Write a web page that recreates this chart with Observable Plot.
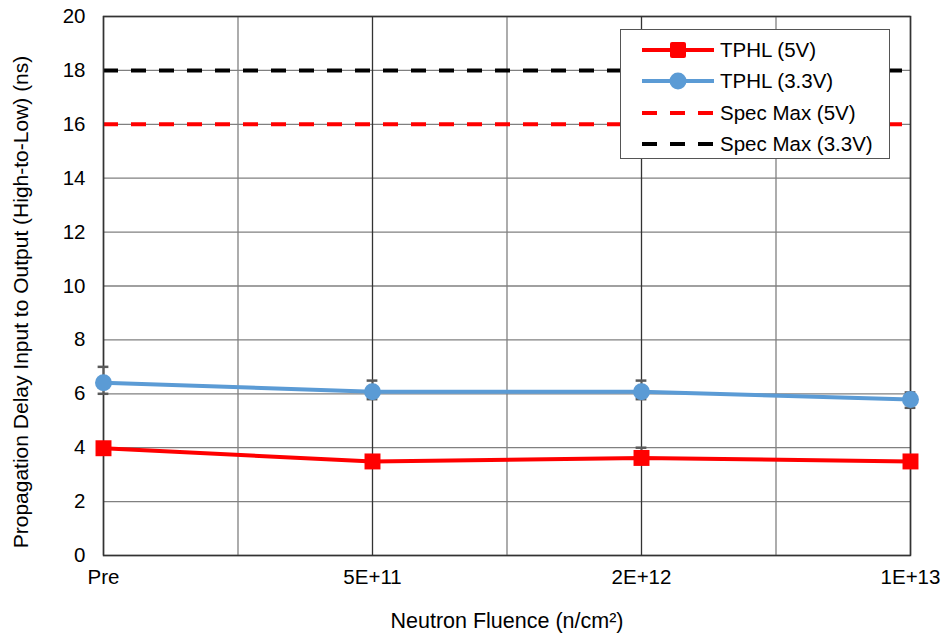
<!DOCTYPE html>
<html>
<head>
<meta charset="utf-8">
<script src="https://cdn.jsdelivr.net/npm/d3@7"></script>
<script src="https://cdn.jsdelivr.net/npm/@observablehq/plot@0.6"></script>
<style>
  html, body { margin: 0; padding: 0; background: #fff; }
  #wrap { position: relative; width: 946px; height: 637px; font-family: "Liberation Sans", Arial, sans-serif; }
  #legend { position: absolute; left: 620px; top: 29px; width: 270px; height: 130px;
    border: 1.5px solid #555; background: #fff; box-sizing: border-box; padding-top: 4px; }
  .item { display: flex; align-items: center; height: 31.5px; font-size: 20.5px; color: #000; }
  .item svg { margin-left: 21px; margin-right: 6px; }
</style>
</head>
<body>
<div id="wrap"></div>
<script>
// ---- data ----
const categories = ["Pre", "5E+11", "2E+12", "1E+13"];
const tphl5 = [3.98, 3.49, 3.62, 3.49];
const tphl5Low = [3.8, 3.3, 3.4, 3.3];
const tphl5High = [4.15, 3.7, 4.0, 3.7];
const tphl33 = [6.41, 6.08, 6.08, 5.79];
const tphl33Low = [6.0, 5.8, 5.8, 5.48];
const tphl33High = [7.0, 6.49, 6.49, 6.05];
const specMax5 = 16;
const specMax33 = 18;
const yTicks = [0, 2, 4, 6, 8, 10, 12, 14, 16, 18, 20];
const yTitle = "Propagation Delay Input to Output (High-to-Low) (ns)";
const xTitle = "Neutron Fluence (n/cm²)";

const red = "#FF0000", blue = "#5B9BD5", errColor = "#595959";

const s5 = categories.map((c, i) => ({x: i, y: tphl5[i], lo: tphl5Low[i], hi: tphl5High[i]}));
const s33 = categories.map((c, i) => ({x: i, y: tphl33[i], lo: tphl33Low[i], hi: tphl33High[i]}));
const midGrid = categories.slice(1).map((c, i) => i + 0.5);
const catGrid = categories.map((c, i) => i);
const capW = 0.02;

const chart = Plot.plot({
  width: 946,
  height: 637,
  marginLeft: 103,
  marginRight: 36,
  marginTop: 16,
  marginBottom: 82,
  style: {fontFamily: "Liberation Sans, Arial, sans-serif", fontSize: "20px", color: "#000", background: "#fff"},
  x: {domain: [0, categories.length - 1]},
  y: {domain: [0, 20]},
  marks: [
    Plot.ruleY(yTicks, {stroke: "#808080", strokeWidth: 1.3}),
    Plot.ruleX(midGrid, {stroke: "#808080", strokeWidth: 1.3}),
    Plot.ruleX(catGrid, {stroke: "#333", strokeWidth: 1.3}),
    Plot.ruleY([specMax5], {stroke: red, strokeWidth: 4, strokeDasharray: "15,13"}),
    Plot.ruleY([specMax33], {stroke: "#000", strokeWidth: 4, strokeDasharray: "15,13"}),
    Plot.frame({stroke: "#333", strokeWidth: 1.5}),
    // error bars
    Plot.ruleX(s33, {x: "x", y1: "lo", y2: "hi", stroke: errColor, strokeWidth: 2}),
    Plot.ruleY(s33, {y: "lo", x1: d => d.x - capW, x2: d => d.x + capW, stroke: errColor, strokeWidth: 2.5}),
    Plot.ruleY(s33, {y: "hi", x1: d => d.x - capW, x2: d => d.x + capW, stroke: errColor, strokeWidth: 2.5}),
    Plot.ruleX(s5, {x: "x", y1: "lo", y2: "hi", stroke: errColor, strokeWidth: 2}),
    Plot.ruleY(s5, {y: "lo", x1: d => d.x - capW, x2: d => d.x + capW, stroke: errColor, strokeWidth: 2.5}),
    Plot.ruleY(s5, {y: "hi", x1: d => d.x - capW, x2: d => d.x + capW, stroke: errColor, strokeWidth: 2.5}),
    // series
    Plot.line(s33, {x: "x", y: "y", stroke: blue, strokeWidth: 4}),
    Plot.dot(s33, {x: "x", y: "y", fill: blue, r: 8.5, symbol: "circle"}),
    Plot.line(s5, {x: "x", y: "y", stroke: red, strokeWidth: 4}),
    Plot.dot(s5, {x: "x", y: "y", fill: red, r: 9, symbol: "square"}),
    // axes (tick labels)
    Plot.axisY({ticks: yTicks, tickSize: 0, tickPadding: 18, fontSize: 20.5, label: null}),
    Plot.axisX({ticks: catGrid, tickFormat: i => categories[i], tickSize: 0, tickPadding: 14, fontSize: 20.5, label: null}),
    // axis titles
    Plot.text([yTitle], {frameAnchor: "left", rotate: -90, textAnchor: "middle", lineAnchor: "middle",
      dx: -82, dy: 16, fontSize: 21, fill: "#000"}),
    Plot.axisX({ticks: [], tickSize: 0, fontSize: 21.5,
      label: xTitle, labelAnchor: "center", labelArrow: "none", labelOffset: 72})
  ]
});

const wrap = document.getElementById("wrap");
wrap.appendChild(chart);

// legend
const legendItems = [
  {label: "TPHL (5V)", color: red, marker: "square", dash: null},
  {label: "TPHL (3.3V)", color: blue, marker: "circle", dash: null},
  {label: "Spec Max (5V)", color: red, marker: null, dash: "15,13"},
  {label: "Spec Max (3.3V)", color: "#000", marker: null, dash: "15,13"}
];
const legend = document.createElement("div");
legend.id = "legend";
for (const it of legendItems) {
  const row = document.createElement("div");
  row.className = "item";
  let m = "";
  if (it.marker === "square") m = `<rect x="28" y="4" width="16" height="16" rx="2" fill="${it.color}"/>`;
  if (it.marker === "circle") m = `<circle cx="36" cy="12" r="8.5" fill="${it.color}"/>`;
  row.innerHTML = `<svg width="72" height="24"><line x1="0" x2="72" y1="12" y2="12" stroke="${it.color}" stroke-width="4" ${it.dash ? `stroke-dasharray="${it.dash}"` : ""}/>${m}</svg><span>${it.label}</span>`;
  legend.appendChild(row);
}
wrap.appendChild(legend);
</script>
</body>
</html>
